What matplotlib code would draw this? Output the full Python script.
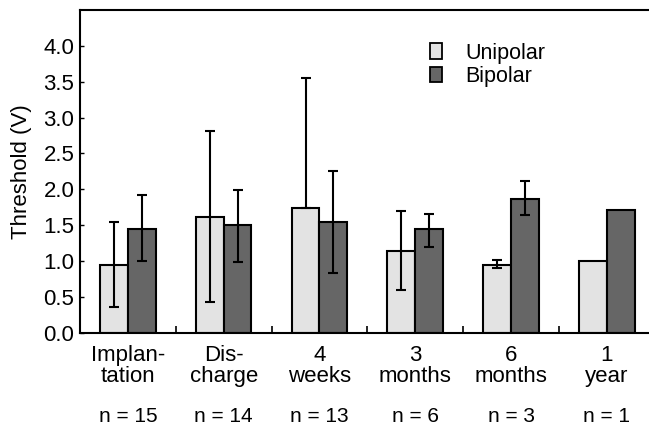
import numpy as np
import matplotlib.pyplot as plt
from matplotlib.patches import Patch

plt.rcParams['font.family'] = ['Liberation Sans', 'DejaVu Sans']

categories = ['Implan-\ntation', 'Dis-\ncharge', '4\nweeks', '3\nmonths', '6\nmonths', '1\nyear']
n_labels = ['n = 15', 'n = 14', 'n = 13', 'n = 6', 'n = 3', 'n = 1']

unipolar = [0.95, 1.62, 1.745, 1.14, 0.95, 1.00]
unipolar_err_lo = [0.59, 1.19, 0.0, 0.55, 0.05, None]
unipolar_err_hi = [0.59, 1.19, 1.80, 0.55, 0.07, None]

bipolar = [1.45, 1.50, 1.54, 1.44, 1.86, 1.71]
bipolar_err_lo = [0.45, 0.52, 0.71, 0.25, 0.22, None]
bipolar_err_hi = [0.47, 0.49, 0.72, 0.22, 0.25, None]

x = np.arange(len(categories))
w = 0.29

fig = plt.figure(figsize=(6.49, 4.25), dpi=100)
ax = fig.add_axes([0.1233, 0.2172, 0.8767, 0.7593])

ax.bar(x - w / 2, unipolar, w, color='#e3e3e3', edgecolor='black', linewidth=1.5, label='Unipolar', zorder=2)
ax.bar(x + w / 2, bipolar, w, color='#666666', edgecolor='black', linewidth=1.5, label='Bipolar', zorder=2)

for vals, lo, hi, off in [(unipolar, unipolar_err_lo, unipolar_err_hi, -w / 2),
                          (bipolar, bipolar_err_lo, bipolar_err_hi, w / 2)]:
    idx = [i for i in range(len(vals)) if lo[i] is not None]
    ax.errorbar(x[idx] + off, [vals[i] for i in idx],
                yerr=[[lo[i] for i in idx], [hi[i] for i in idx]],
                fmt='none', ecolor='black', elinewidth=1.5, capsize=3.5, capthick=1.5, zorder=3)

ax.set_xlim(-0.5, 5.44)
ax.set_ylim(0, 4.5)
ax.set_yticks(np.arange(0, 4.01, 0.5))
ax.set_yticklabels([f'{v:.1f}' for v in np.arange(0, 4.01, 0.5)])
ax.set_xticks(x[:-1] + 0.5)
ax.set_xticklabels([])
ax.tick_params(axis='x', direction='in', length=5, width=1.2)
ax.tick_params(axis='y', direction='in', length=3, width=1.0, labelsize=16, pad=4)
ax.spines['right'].set_visible(False)
for s in ['left', 'top', 'bottom']:
    ax.spines[s].set_linewidth(1.5)
ax.set_ylabel('Threshold (V)', fontsize=16, labelpad=8)

for i, (c, n) in enumerate(zip(categories, n_labels)):
    ax.text(x[i], -0.17, c, ha='center', va='top', fontsize=16, linespacing=1.03)
    ax.text(x[i], -1.03, n, ha='center', va='top', fontsize=15)

handles = [Patch(facecolor='#e3e3e3', edgecolor='black', linewidth=1.3),
           Patch(facecolor='#666666', edgecolor='black', linewidth=1.3)]
ax.legend(handles, ['Unipolar', 'Bipolar'], loc='upper left', bbox_to_anchor=(0.6, 0.925),
          frameon=False, fontsize=15.5, handlelength=0.55, handleheight=0.75,
          handletextpad=1.1, labelspacing=0.1, borderaxespad=0)

fig.savefig('out.png', dpi=100)
